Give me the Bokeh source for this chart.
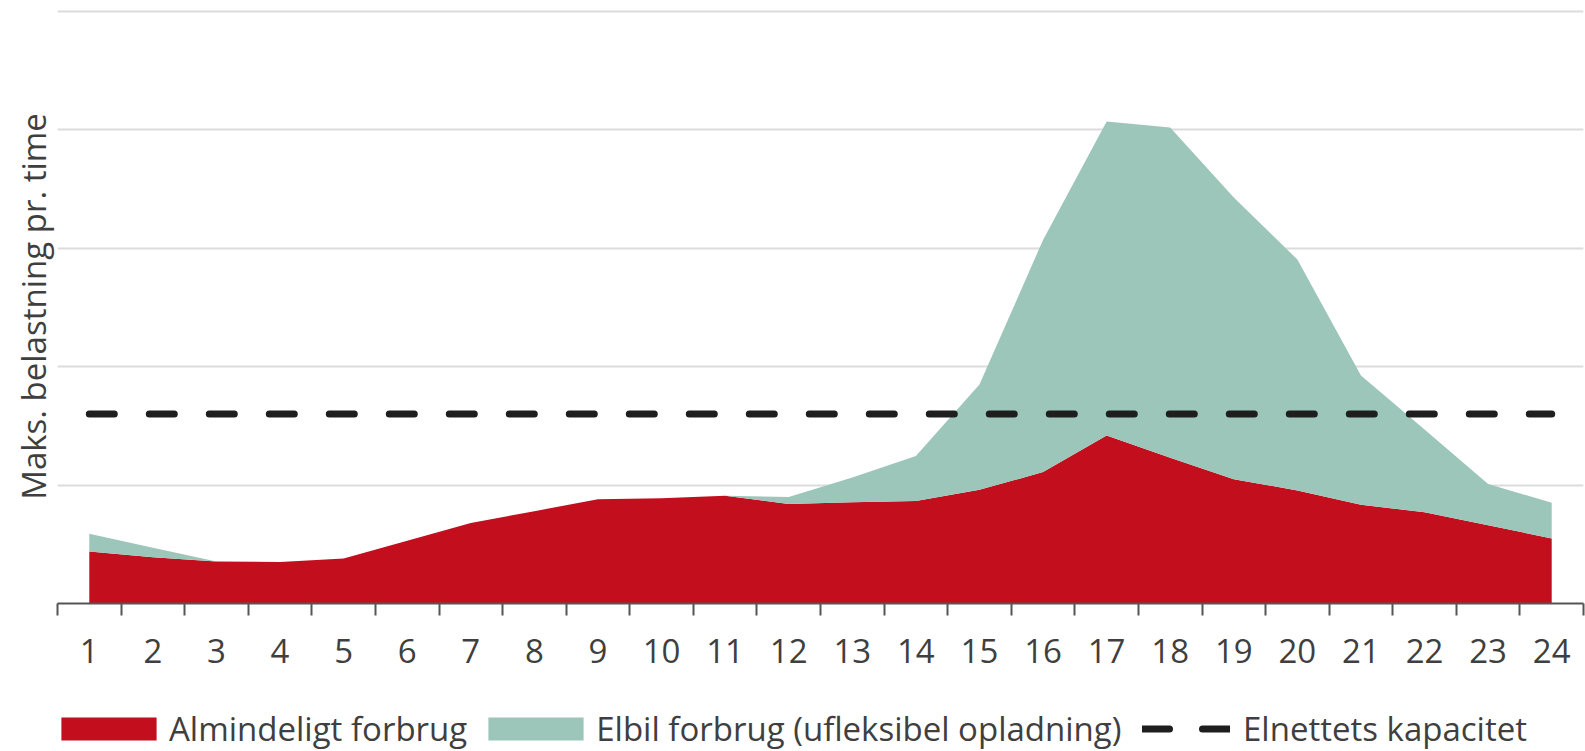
from bokeh.plotting import figure
from bokeh.layouts import column
from bokeh.models import ColumnDataSource, FixedTicker, Grid, Legend, LegendItem, LinearAxis
from bokeh.embed import file_html
from bokeh.resources import INLINE

hours = list(range(1, 25))
almindeligt = [0.44, 0.39, 0.355, 0.35, 0.38, 0.53, 0.68, 0.78, 0.88, 0.89, 0.91, 0.84,
               0.855, 0.865, 0.96, 1.11, 1.42, 1.23, 1.05, 0.955, 0.835, 0.77, 0.66, 0.55]
elbil = [0.15, 0.08, 0.0, 0.0, 0.0, 0.0, 0.0, 0.0, 0.0, 0.0, 0.0, 0.06,
         0.21, 0.38, 0.89, 1.96, 2.65, 2.79, 2.38, 1.95, 1.09, 0.70, 0.35, 0.30]
kapacitet = 1.6
y_ticks = [1, 2, 3, 4, 5]
tick_labels = [str(h) for h in hours]
boundaries = [h - 0.5 for h in hours] + [hours[-1] + 0.5]
series_names = ["Almindeligt forbrug", "Elbil forbrug (ufleksibel opladning)", "Elnettets kapacitet"]

RED = "#c20e1d"
GREEN = "#9cc6b9"
DASH = "#1e1e1e"
TXT = "#3f3f3f"
FONT = "Open Sans"

source = ColumnDataSource(dict(hour=hours, alm=almindeligt, elbil=elbil))


def draw_series(fig, dash):
    a = fig.varea_stack(["alm", "elbil"], x="hour", color=[RED, GREEN], source=source)
    ln = fig.line(x=[hours[0], hours[-1]], y=[kapacitet, kapacitet], line_color=DASH,
                  line_width=7, line_dash=dash, line_cap="round")
    return a, ln


p = figure(width=1585, height=700, x_range=(0.5, 24.5), y_range=(0, 5.017),
           output_backend="svg", toolbar_location=None, y_axis_location=None,
           min_border_left=57, min_border_right=2, min_border_top=9, min_border_bottom=97)
p.outline_line_color = None
p.xgrid.visible = False

grid = Grid(dimension=1, ticker=FixedTicker(ticks=y_ticks),
            grid_line_color="#dcdcdc", grid_line_width=2)
p.add_layout(grid)

draw_series(p, "25 35")

ax = p.xaxis[0]
ax.ticker = FixedTicker(ticks=hours, minor_ticks=boundaries)
ax.major_label_overrides = {h: lab for h, lab in zip(hours, tick_labels)}
ax.major_tick_in = 0
ax.major_tick_out = 0
ax.minor_tick_in = 0
ax.minor_tick_out = 12
ax.minor_tick_line_width = 2
ax.minor_tick_line_color = "#555555"
ax.axis_line_width = 2
ax.axis_line_color = "#555555"
ax.major_label_text_font = FONT
ax.major_label_text_font_size = "33px"
ax.major_label_text_color = TXT
ax.major_label_standoff = 23

yax = LinearAxis(ticker=FixedTicker(ticks=[]), axis_line_color=None,
                 major_tick_line_color=None, minor_tick_line_color=None,
                 major_label_text_font_size="0px",
                 axis_label="Maks. belastning pr. time", axis_label_standoff=2,
                 axis_label_text_font=FONT, axis_label_text_font_size="33px",
                 axis_label_text_font_style="normal", axis_label_text_color=TXT)
p.add_layout(yax, "left")

# legend strip below the chart (series drawn out of its view, only the legend shows)
lg = figure(width=1585, height=51, x_range=(0.5, 24.5), y_range=(-2, -1),
            output_backend="svg", toolbar_location=None,
            x_axis_location=None, y_axis_location=None,
            min_border_left=0, min_border_right=0, min_border_top=0, min_border_bottom=0)
lg.outline_line_color = None
lg.xgrid.visible = False
lg.ygrid.visible = False
l_areas, l_line = draw_series(lg, "27 33")

common = dict(orientation="horizontal", border_line_color=None, background_fill_alpha=0,
              padding=0, margin=0, glyph_height=29, label_text_font=FONT,
              label_text_font_size="33px", label_text_color=TXT)

legend_areas = Legend(items=[
    LegendItem(label=series_names[0], renderers=[l_areas[0]]),
    LegendItem(label=series_names[1], renderers=[l_areas[1]]),
], location=(-8, 0), spacing=9, glyph_width=119, label_standoff=1, **common)
legend_line = Legend(items=[
    LegendItem(label=series_names[2], renderers=[l_line]),
], location=(1085, 0), spacing=0, glyph_width=88, label_standoff=13, **common)
lg.add_layout(legend_areas)
lg.add_layout(legend_line)

layout = column(p, lg, spacing=0)
open("out.html", "w").write(file_html(layout, INLINE))
